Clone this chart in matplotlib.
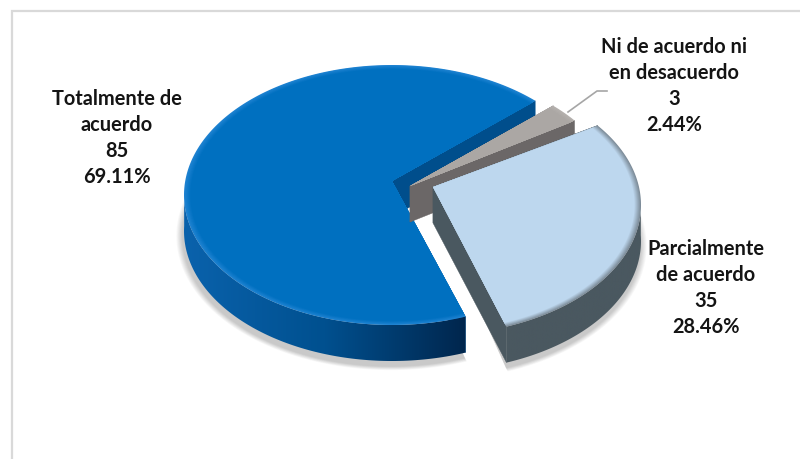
import numpy as np
import matplotlib
matplotlib.use('Agg')
import matplotlib.pyplot as plt
from matplotlib.colors import LinearSegmentedColormap, to_rgb
from matplotlib.patches import Polygon

# survey answers
categories = ['Totalmente de\nacuerdo', 'Ni de acuerdo ni\nen desacuerdo', 'Parcialmente\nde acuerdo']
counts = [85, 3, 35]
percents = ['69.11%', '2.44%', '28.46%']

# slice styling, same order as categories
top_colors = ['#0070C0', '#ABA7A4', '#BDD7EE']
rim_colors = ['#1F83D2', '#B5B1AE', '#7D8C99']
cut_colors = ['#004E8C', '#6B6767', '#4A5860']
wall_left = ['#0A62AC', '#6B6767', '#4A5860']
wall_mid = ['#00508F', '#6B6767', '#4A5860']
wall_right = ['#00264D', '#6B6767', '#4A5860']
center_x = [392, 410, 433]
center_y = [195, 200, 205]
apex_lift = [14, 14, 18]

RX, RY = 208, 130
DEPTH = 36
START = 43.0
text_pos = [(117, 138), (674, 86), (706, 288)]


def warp(deg):
    # foreshortening of the tilted disc, angles open up slightly at the back right
    return deg + 3.5 * np.sin(np.radians(deg + 50))


def rim(cx, cy, a, scale=1.0):
    return np.column_stack([cx + RX * scale * np.cos(a), cy - RY * scale * np.sin(a)])


def mix(c1, c2, t):
    return tuple(np.array(to_rgb(c1)) * (1 - t) + np.array(to_rgb(c2)) * t)


def draw_slice(ax, i, a0, a1):
    cx, cy = center_x[i], center_y[i]
    apex = np.array([cx, cy - apex_lift[i]])
    angles = np.radians(warp(np.linspace(a0, a1, 240)))
    arc = rim(cx, cy, angles)
    drop = np.array([0, DEPTH])

    # cut faces
    for end in (arc[0], arc[-1]):
        face = np.array([apex, end, end + drop, apex + drop])
        ax.add_patch(Polygon(face, closed=True, fc=cut_colors[i], ec=cut_colors[i], lw=0.3, zorder=3 + i))

    # outer wall, front part only, shaded left to right
    front = np.sin(angles) < 0.05
    if front.any():
        wall = np.vstack([arc[front], arc[front][::-1] + drop])
        clip = Polygon(wall, closed=True, fc='none', ec='none', transform=ax.transData)
        ax.add_patch(clip)
        cmap = LinearSegmentedColormap.from_list('wall', [wall_left[i], wall_mid[i], wall_right[i]])
        x0, x1 = wall[:, 0].min(), wall[:, 0].max()
        y0, y1 = wall[:, 1].min(), wall[:, 1].max()
        grad = np.linspace(0, 1, 256)[None, :]
        im = ax.imshow(grad, cmap=cmap, extent=(x0, x1, y1, y0), aspect='auto', zorder=3 + i)
        im.set_clip_path(clip)

    # top face, a few rings fading from rim colour to flat colour
    rings = 8
    for k in range(rings):
        s = 1 - 0.035 * k / rings
        col = mix(rim_colors[i], top_colors[i], k / (rings - 1))
        pts = np.vstack([apex, rim(cx, cy, angles, s)])
        ax.add_patch(Polygon(pts, closed=True, fc=col, ec='none', zorder=3 + i))


def draw_shadow(ax, i, a0, a1):
    cx, cy = center_x[i], center_y[i]
    angles = np.radians(warp(np.linspace(a0, a1, 200)))
    for k in range(8):
        grow = 1.0 + 0.004 * (8 - k)
        pts = rim(cx - 1, cy + DEPTH + 5, angles, grow)
        pts = np.vstack([[cx, cy], pts])
        ax.add_patch(Polygon(pts, closed=True, fc='#000000', ec='none', alpha=0.028, zorder=1))


fig = plt.figure(figsize=(8, 4.59), dpi=100)
ax = fig.add_axes([0, 0, 1, 1])
ax.axis('off')

# frame only shows on the top and left
ax.plot([12, 12, 800], [459, 11, 11], color='#D9D9D9', lw=1.6, zorder=1, solid_joinstyle='miter')

# sweep counter-clockwise from the start angle
spans = np.array(counts) / sum(counts) * 360
a = START
bounds = {}
bounds[0] = (a, a + spans[0])
a += spans[0]
bounds[2] = (a, a + spans[2])
a += spans[2]
bounds[1] = (a, a + spans[1])

for i in (0, 2):
    draw_shadow(ax, i, *bounds[i])
for i in (0, 1, 2):
    draw_slice(ax, i, *bounds[i])

# leader line for the small slice
ax.plot([568, 597, 607], [112, 91, 91], color='#A6A6A6', lw=1.2, zorder=2)

for name, n, pct, (x, y) in zip(categories, counts, percents, text_pos):
    ax.text(x, y, f'{name}\n{n}\n{pct}', ha='center', va='center', family='Lato',
            weight='bold', fontsize=14.4, color='#141414', linespacing=1.38, zorder=10)

ax.set_xlim(0, 800)
ax.set_ylim(459, 0)
ax.set_aspect('auto')

fig.savefig('out.png', dpi=100)
plt.close(fig)
